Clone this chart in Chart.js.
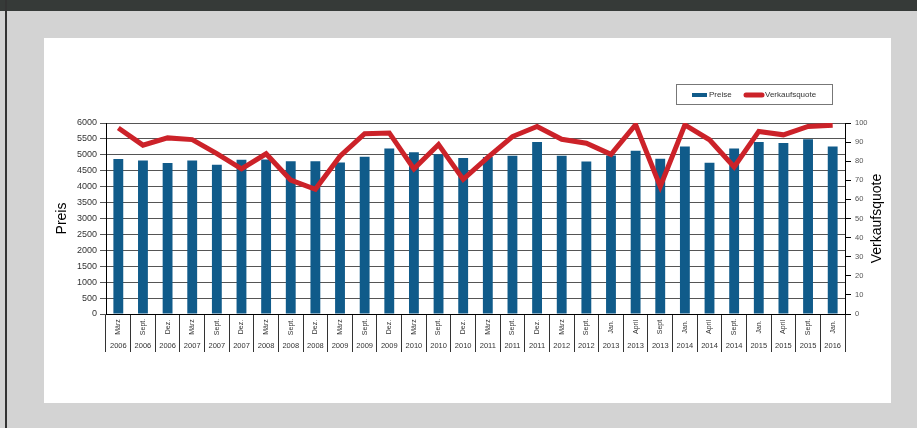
<!DOCTYPE html>
<html>
<head>
<meta charset="utf-8">
<script src="https://cdn.jsdelivr.net/npm/chart.js@4/dist/chart.umd.min.js"></script>
<style>
  html,body{margin:0;padding:0;}
  body{width:917px;height:428px;background:#d3d3d3;position:relative;overflow:hidden;font-family:"Liberation Sans",Arial,sans-serif;}
  #hdr{position:absolute;left:0;top:0;width:917px;height:11px;background:#363a38;}
  #lb{position:absolute;left:5px;top:0;width:2px;height:428px;background:#333;}
  #panel{position:absolute;left:44px;top:38px;width:847px;height:365px;background:#fff;}
  canvas{position:absolute;left:0;top:0;}
</style>
</head>
<body>
<div id="hdr"></div>
<div id="lb"></div>
<div id="panel"><canvas id="c" width="847" height="365"></canvas></div>
<script>
const months = ["März","Sept.","Dez.","März","Sept.","Dez.","März","Sept.","Dez.","März","Sept.","Dez.","März","Sept.","Dez.","März","Sept.","Dez.","März","Sept.","Jan.","April","Sept","Jan.","April","Sept.","Jan.","April","Sept.","Jan."];
const years = ["2006","2006","2006","2007","2007","2007","2008","2008","2008","2009","2009","2009","2010","2010","2010","2011","2011","2011","2012","2012","2013","2013","2013","2014","2014","2014","2015","2015","2015","2016"];
const preise = [4870,4820,4740,4820,4690,4845,4850,4800,4800,4760,4940,5200,5080,5020,4900,4930,4970,5400,4970,4790,4980,5130,4880,5260,4750,5200,5400,5370,5490,5260];
const quote = [97.4,88.4,92.2,91.3,84.0,76.0,83.9,70.1,65.3,82.6,94.4,94.8,76.0,88.7,70.5,82.0,92.9,98.2,91.5,89.4,83.6,99.1,66.8,99.0,91.2,77.0,95.6,93.8,98.2,98.8];
const leftTicks = {min:0,max:6000,step:500};
const rightTicks = {min:0,max:100,step:10};
const leftTitle = 'Preis';
const rightTitle = 'Verkaufsquote';

const FONT = '"Liberation Sans", Arial, sans-serif';

const xLabelPlugin = {
  id:'xLabels',
  afterDraw(chart){
    const ctx = chart.ctx, xs = chart.scales.x, bottom = chart.chartArea.bottom;
    ctx.save();
    ctx.fillStyle = '#333';
    for(let i=0;i<months.length;i++){
      const x = xs.getPixelForValue(i);
      ctx.save();
      ctx.translate(x, bottom+13);
      ctx.rotate(-Math.PI/2);
      ctx.font = '7px '+FONT;
      ctx.textAlign='center'; ctx.textBaseline='middle';
      ctx.fillText(months[i],0,0);
      ctx.restore();
      ctx.font = '7.5px '+FONT;
      ctx.textAlign='center'; ctx.textBaseline='middle';
      ctx.fillText(years[i], x, bottom+32);
    }
    // right axis title, reading bottom-to-top
    const y1 = chart.scales.y1, ca = chart.chartArea;
    ctx.save();
    ctx.translate(y1.right-8, (ca.top+ca.bottom)/2);
    ctx.rotate(-Math.PI/2);
    ctx.font='14px '+FONT; ctx.fillStyle='#000';
    ctx.textAlign='center'; ctx.textBaseline='middle';
    ctx.fillText(rightTitle,0,0);
    ctx.restore();
    ctx.restore();
  }
};

const legendPlugin = {
  id:'boxLegend',
  afterDraw(chart){
    const ctx = chart.ctx;
    ctx.save();
    ctx.strokeStyle='#777'; ctx.lineWidth=1;
    ctx.strokeRect(632.5,46.5,156,20);
    ctx.fillStyle='#105b8a';
    ctx.fillRect(648,55,15,4);
    ctx.font='8px '+FONT; ctx.fillStyle='#333'; ctx.textBaseline='middle'; ctx.textAlign='left';
    ctx.fillText(chart.data.datasets[0].label,665,57);
    ctx.strokeStyle='#cc2229'; ctx.lineWidth=5; ctx.lineCap='round';
    ctx.beginPath(); ctx.moveTo(702,57); ctx.lineTo(718,57); ctx.stroke();
    ctx.fillText(chart.data.datasets[1].label,721,57);
    ctx.restore();
  }
};

new Chart(document.getElementById('c'),{
  data:{
    labels: months.map((m,i)=>m+' '+years[i]),
    datasets:[
      {type:'bar',label:'Preise',data:preise,backgroundColor:'#105b8a',barPercentage:0.8,categoryPercentage:0.5,yAxisID:'y',order:2},
      {type:'line',label:'Verkaufsquote',data:quote,borderColor:'#cc2229',backgroundColor:'#cc2229',borderWidth:5,pointRadius:0,tension:0,yAxisID:'y1',order:1}
    ]
  },
  options:{
    responsive:false,animation:false,
    layout:{padding:{left:10,right:6,top:85,bottom:49}},
    plugins:{legend:{display:false},tooltip:{enabled:false}},
    scales:{
      x:{type:'category',offset:true,
        grid:{offset:true,drawOnChartArea:false,drawTicks:true,tickLength:38,color:'#333',lineWidth:1},
        border:{color:'#000',width:1},
        ticks:{display:false},
        afterFit(s){s.height=40;}
      },
      y:{position:'left',min:leftTicks.min,max:leftTicks.max,
        ticks:{stepSize:leftTicks.step,font:{size:9,family:FONT},color:'#333',padding:3,callback:v=>String(v)},
        grid:{color:'#555',lineWidth:1,tickLength:6},
        border:{color:'#000',width:1},
        title:{display:true,text:leftTitle,font:{size:14,family:FONT},color:'#000',padding:{top:0,bottom:2}},
        afterFit(s){s.width=52;}
      },
      y1:{position:'right',min:rightTicks.min,max:rightTicks.max,
        ticks:{stepSize:rightTicks.step,font:{size:7.5,family:FONT},color:'#555',padding:4,callback:v=>String(v)},
        grid:{drawOnChartArea:false,color:'#000',tickLength:6},
        border:{color:'#000',width:1},
        title:{display:false},
        afterFit(s){s.width=40;}
      }
    }
  },
  plugins:[xLabelPlugin,legendPlugin]
});
</script>
</body>
</html>
